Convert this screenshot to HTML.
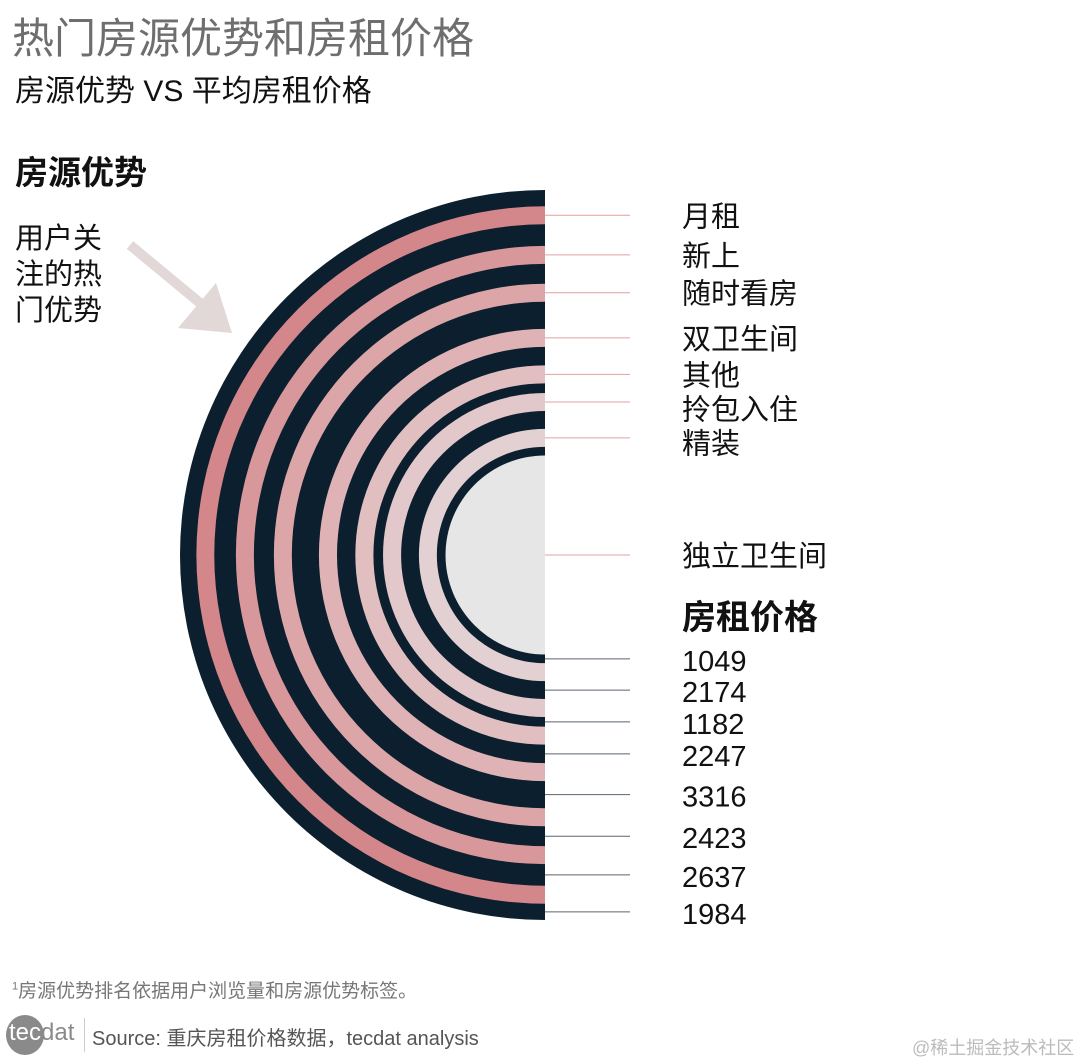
<!DOCTYPE html>
<html><head><meta charset="utf-8">
<style>
body{margin:0;background:#fff;width:1080px;height:1063px;overflow:hidden;position:relative;font-family:"Liberation Sans","Noto Sans CJK SC",sans-serif;}
.t{position:absolute;white-space:nowrap;}
</style></head><body>
<div class="t" style="left:12px;top:5px;font-size:42px;color:#6e6e6e;">热门房源优势和房租价格</div>
<div class="t" style="left:15px;top:66px;font-size:30px;color:#111;">房源优势 VS 平均房租价格</div>
<div class="t" style="left:15px;top:146px;font-size:33px;font-weight:bold;color:#111;">房源优势</div>
<div class="t" style="left:15px;top:221px;font-size:29px;line-height:36px;color:#111;">用户关<br>注的热<br>门优势</div>
<svg id="chart" width="1080" height="1063" style="position:absolute;left:0;top:0">
<g>
<line x1="130" y1="245" x2="200" y2="303" stroke="#e2d8d8" stroke-width="10"/>
<polygon points="232,333 178,328 216,283" fill="#e2d8d8"/>
</g>
</svg>
<div class="t" style="left:682px;top:590px;font-size:34px;font-weight:bold;color:#111;">房租价格</div>
<div class="t" style="left:12px;top:976px;font-size:19px;color:#777;"><sup style="font-size:11px">1</sup>房源优势排名依据用户浏览量和房源优势标签。</div>
<div style="position:absolute;left:6px;top:1015px;width:38px;height:40px;border-radius:50%;background:#8a8a8a;"></div>
<div class="t" style="left:9px;top:1019px;font-size:24px;color:#8a8a8a;"><span style="color:#fff">tec</span>dat</div>
<div style="position:absolute;left:84px;top:1018px;width:1px;height:34px;background:#ccc"></div>
<div class="t" style="left:92px;top:1022px;font-size:20px;color:#555;">Source: 重庆房租价格数据，tecdat analysis</div>
<div class="t" style="left:912px;top:1034px;font-size:18px;color:#bbb;">@稀土掘金技术社区</div>
<script>
// outer -> inner
const advantages=["月租","新上","随时看房","双卫生间","其他","拎包入住","精装","独立卫生间"];
const prices=[1984,2637,2423,3316,2247,1182,2174,1049];
const pinkColors=["#d4878a","#d8979a","#dca6a8","#dfb3b5","#e1bfc1","#e2c8ca","#e3d0d2","#e6e6e6"];
const cx=545,cy=555,R=365,pinkW=18,k=1/122;
const svg=document.getElementById('chart');
const NS='http://www.w3.org/2000/svg';
function half(r,fill){
 const p=document.createElementNS(NS,'path');
 p.setAttribute('d',`M${cx},${cy-r} A${r},${r} 0 0 0 ${cx},${cy+r} Z`);
 p.setAttribute('fill',fill);return p;}
function line(y,c){const l=document.createElementNS(NS,'line');
 l.setAttribute('x1',cx);l.setAttribute('x2',630);l.setAttribute('y1',y);l.setAttribute('y2',y);
 l.setAttribute('stroke',c);l.setAttribute('stroke-width',1);return l;}
function txt(x,y,s){const t=document.createElementNS(NS,'text');t.setAttribute('x',x);t.setAttribute('y',y);
 t.setAttribute('font-size',29);t.setAttribute('fill','#111');t.setAttribute('dominant-baseline','central');
 t.setAttribute('font-family','"Liberation Sans","Noto Sans CJK SC",sans-serif');t.textContent=s;return t;}
let r=R;
const labels=[];
prices.forEach((p,i)=>{
 const dw=p*k;
 const d=half(r,'#0b1f2e');
 
 
 svg.appendChild(d);
 const priceY=cy+r-dw/2;
 r-=dw;
 const last=i===prices.length-1;
 const pk=half(r,pinkColors[i]);
 
 
 svg.appendChild(pk);
 const advY=!last?cy-r+pinkW/2:cy;
 r-=pinkW;
 labels.push({advY,priceY,name:advantages[i],p});
});
let lastT=-1e9;
labels.forEach(o=>{
 const l1=line(o.advY,'#e0a0a2');
 
 
 svg.appendChild(l1);
 const ty=Math.max(o.advY+2,lastT+34);lastT=ty;
 const t1=txt(682,ty,o.name);
 
 
 svg.appendChild(t1);
 const l2=line(o.priceY,'#5a6570');
 
 
 svg.appendChild(l2);
 const t2=txt(682,o.priceY+3,String(o.p));
 
 
 svg.appendChild(t2);
});
</script>
</body></html>
